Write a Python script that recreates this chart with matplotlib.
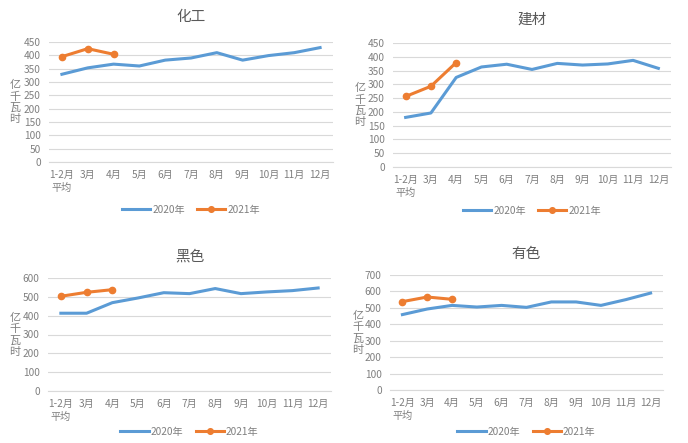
import numpy as np
import matplotlib.pyplot as plt

plt.rcParams['font.family'] = ['Noto Sans CJK SC', 'DejaVu Sans']

months = ['1-2月\n平均', '3月', '4月', '5月', '6月', '7月', '8月', '9月', '10月', '11月', '12月']

chem_2020 = [329, 353, 367, 360, 382, 390, 410, 382, 399, 410, 429]
chem_2021 = [395, 425, 404]
build_2020 = [180, 196, 325, 363, 373, 354, 376, 370, 374, 387, 358]
build_2021 = [256, 293, 379]
black_2020 = [413, 413, 469, 494, 522, 517, 544, 517, 526, 533, 547]
black_2021 = [503, 524, 538]
nonfer_2020 = [459, 493, 515, 505, 515, 503, 536, 536, 515, 550, 590]
nonfer_2021 = [538, 566, 552]

BLUE = '#5B9BD5'
ORANGE = '#ED7D31'
GRAY = '#595959'
LGRAY = '#7F7F7F'

W, H = 688, 443
fig = plt.figure(figsize=(W / 100, H / 100), dpi=100)
fig.patch.set_facecolor('white')

# (title, 2020, 2021, ymax, step, plot box px: left, top, right, bottom, title y, legend y, ylabel x)
panels = [
    ('化工', chem_2020, chem_2021, 450, 50, (49, 42, 333, 162), 17, 210, 15),
    ('建材', build_2020, build_2021, 450, 50, (393, 43, 671, 167), 20, 211, 360),
    ('黑色', black_2020, black_2021, 600, 100, (48, 278, 331, 391), 257, 432, 15),
    ('有色', nonfer_2020, nonfer_2021, 700, 100, (390, 275, 663, 390), 254, 432, 358),
]

for title, s20, s21, ymax, step, box, ty, ly, yl in panels:
    l, t, r, b = box
    ax = fig.add_axes([l / W, 1 - b / H, (r - l) / W, (b - t) / H])
    x = np.arange(len(months))
    ax.plot(x, s20, color=BLUE, lw=2.2, label='2020年')
    ax.plot(x[:len(s21)], s21, color=ORANGE, lw=2.2, marker='o', ms=4.5, label='2021年')
    ax.set_xlim(-0.5, len(months) - 0.5)
    ax.set_ylim(0, ymax)
    ax.set_yticks(np.arange(0, ymax + 1, step))
    ax.set_xticks(x)
    ax.set_xticklabels(months, fontsize=7.3, color=LGRAY, linespacing=1.3)
    ax.tick_params(axis='y', labelsize=7.3, labelcolor=LGRAY, length=0, pad=6)
    ax.tick_params(axis='x', length=0, pad=6)
    ax.grid(axis='y', color='#D9D9D9', lw=0.8)
    ax.set_axisbelow(True)
    for s in ['top', 'right', 'left']:
        ax.spines[s].set_visible(False)
    ax.spines['bottom'].set_color('#D9D9D9')
    cx = (l + r) / 2
    fig.text(cx / W, 1 - ty / H, title, ha='center', va='center', fontsize=10.5, color=GRAY)
    fig.text(yl / W, 1 - ((t + b) / 2) / H, '\n'.join('亿千瓦时'), ha='center', va='center',
             fontsize=8, color=LGRAY, linespacing=1.15)
    ax.legend(loc='center', bbox_to_anchor=(0.5, 1 - (ly - t) / (b - t)), ncol=2, frameon=False,
              fontsize=7.3, labelcolor=LGRAY, handlelength=2.8, columnspacing=1.2, handletextpad=0.2,
              markerscale=0.9)

plt.savefig('out.png', dpi=100)
